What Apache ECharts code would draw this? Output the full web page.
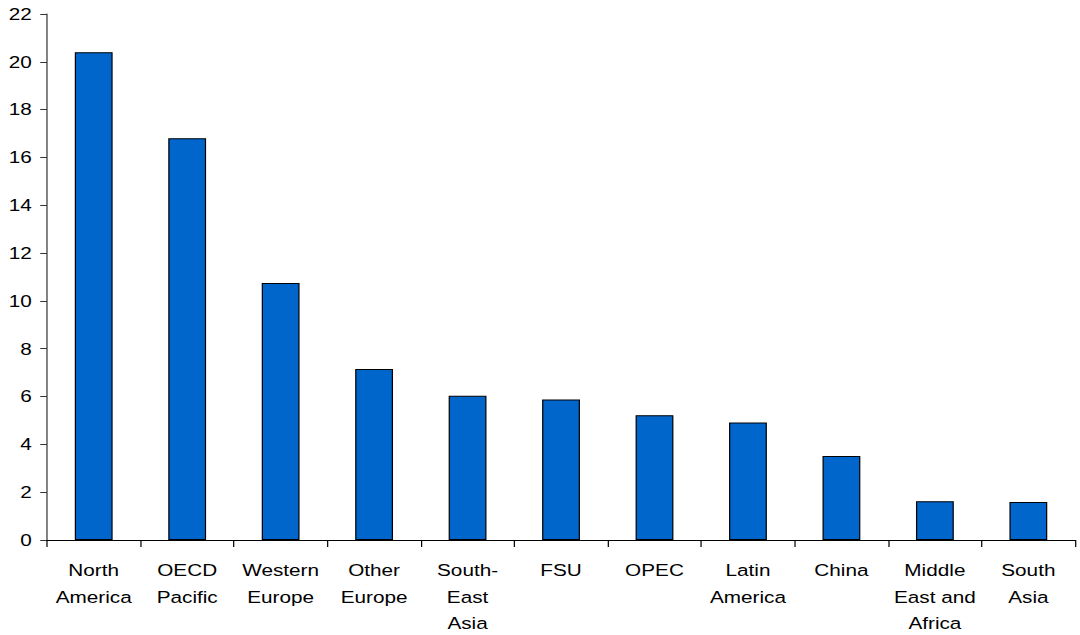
<!DOCTYPE html>
<html>
<head>
<meta charset="utf-8">
<script src="https://cdn.jsdelivr.net/npm/echarts@6/dist/echarts.min.js"></script>
<style>
  html, body { margin: 0; padding: 0; background: #fff; overflow: hidden; }
  /* The chart is laid out narrower and widened to 1080px, giving the wide lettering */
  #chart { width: 885px; height: 635px; transform: scaleX(1.2203); transform-origin: 0 0; }
</style>
</head>
<body>
<div id="chart"></div>
<script>
// Regions along the category axis
const categories = [
  'North\nAmerica', 'OECD\nPacific', 'Western\nEurope', 'Other\nEurope',
  'South-\nEast\nAsia', 'FSU', 'OPEC', 'Latin\nAmerica', 'China',
  'Middle\nEast and\nAfrica', 'South\nAsia'
];
// Value for each region
const values = [20.4, 16.8, 10.75, 7.15, 6.03, 5.88, 5.22, 4.91, 3.51, 1.62, 1.59];
// Value axis range
const yMin = 0, yMax = 22, yStep = 2;

const chart = echarts.init(document.getElementById('chart'), null, { renderer: 'svg' });
const textStyle = { fontFamily: 'Liberation Sans, Arial, sans-serif', fontSize: 17, color: '#000' };

chart.setOption({
  animation: false,
  backgroundColor: '#fff',
  grid: { left: 38.5, top: 14, width: 842.5, height: 526, containLabel: false, outerBoundsMode: 'none' },
  xAxis: {
    type: 'category',
    data: categories,
    boundaryGap: true,
    axisLine: { lineStyle: { color: '#000', width: 1 } },
    axisTick: { show: true, alignWithLabel: false, length: 7, lineStyle: { color: '#000' } },
    axisLabel: Object.assign({ interval: 0, margin: 17, lineHeight: 26.5, align: 'center' }, textStyle),
    splitLine: { show: false }
  },
  yAxis: {
    type: 'value',
    min: yMin, max: yMax, interval: yStep,
    axisLine: { show: true, lineStyle: { color: '#333', width: 1 } },
    axisTick: { show: true, length: 5.5, lineStyle: { color: '#333' } },
    axisLabel: Object.assign({ margin: 12.5 }, textStyle),
    splitLine: { show: false }
  },
  series: [{
    type: 'bar',
    data: values,
    barWidth: 31,
    itemStyle: { color: '#0066CC', borderColor: '#000', borderWidth: 1 }
  }]
});
</script>
</body>
</html>
